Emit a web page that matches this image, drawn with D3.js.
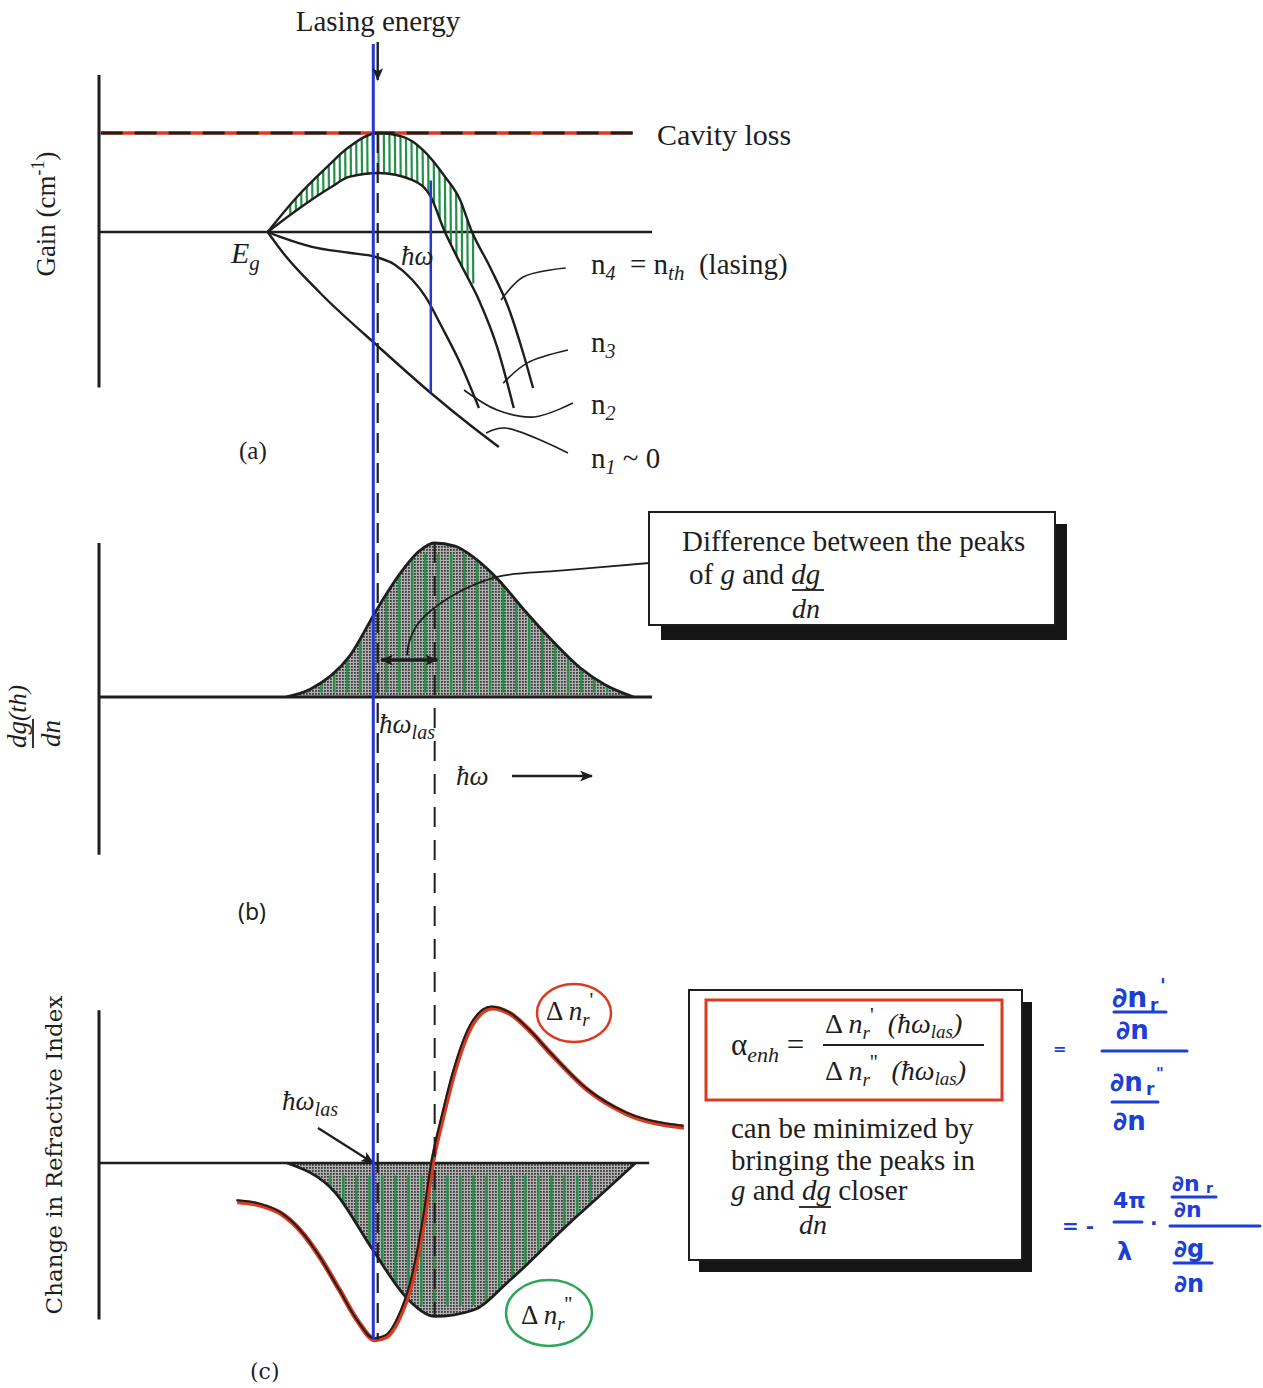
<!DOCTYPE html>
<html>
<head>
<meta charset="utf-8">
<script src="https://cdnjs.cloudflare.com/ajax/libs/d3/7.8.5/d3.min.js"></script>
<style>
  body { margin: 0; background: #fff; }
  svg { display: block; }
  text { font-family: "Liberation Serif", "Times New Roman", serif; fill: #1e1e1e; }
  .hand { font-family: "DejaVu Sans", sans-serif; fill: #1d3fd4; font-weight: bold; }
</style>
</head>
<body>
<div id="fig"></div>
<script>
// photon energy runs 0..100 (arbitrary units) along every panel
const bandGap = 30.5;
const lasingEnergy = 50.4;
const lasingMarker = 49.6;      // hand-drawn blue line
const dgPeakEnergy = 60.7;
const gainMarker = 60.0;        // short blue line in (a)
const cavityLoss = 5;

// (a) gain spectra for increasing carrier density n1 < n2 < n3 < n4
const gainN4 = [[30.5,0],[35.8,1.77],[41.2,3.28],[45.2,4.29],[50.5,5.0],[55.0,4.8],[58.6,4.14],[62.6,2.78],[65.3,1.62],[67.3,0.1],[70.7,-1.77],[74.0,-3.79],[76.7,-6.11],[78.5,-7.88]];
const gainN3 = [[30.5,0],[35.8,1.11],[42.0,2.27],[45.2,2.78],[50.6,2.98],[56.6,2.63],[60.0,1.77],[62.4,0.1],[65.3,-1.57],[68.7,-3.43],[72.0,-5.81],[75.0,-8.89]];
const gainN2 = [[30.5,0],[33.3,-0.3],[38.5,-0.75],[45.2,-1.05],[49.9,-1.25],[53.5,-1.65],[56.6,-2.4],[59.0,-3.25],[62.0,-4.80],[65.3,-6.62],[68.7,-8.89]];
const gainN1 = [[30.5,0],[33.3,-1.06],[40.0,-3.08],[50.6,-5.81],[60.0,-8.13],[67.1,-9.75],[72.3,-10.86]];
const leaderN4 = [[72.7,-3.43],[76.7,-2.27],[84.4,-1.82]];
const leaderN3 = [[73.1,-7.63],[77.4,-6.62],[84.8,-5.96]];
const leaderN2 = [[66.0,-7.98],[72.0,-8.99],[78.7,-9.34],[85.7,-8.64]];
const leaderN1 = [[70.0,-10.15],[73.4,-9.90],[84.8,-11.16]];

// (b) differential gain dg/dn at threshold
const dgdn = [[33.8,0],[38.2,0.05],[45.2,0.26],[50.6,0.59],[54.4,0.80],[58.0,0.95],[60.6,1.0],[64.4,0.98],[68.0,0.90],[72.0,0.77],[77.0,0.56],[82.1,0.36],[87.0,0.19],[91.5,0.08],[96.7,0]];
const leaderB = [[99.5,0.87],[83.4,0.82],[72.0,0.78],[63.5,0.65],[58.0,0.49],[56.2,0.37],[55.7,0.27]];

// (c) change in refractive index
const dnImag = [[34.0,0],[42.7,-0.19],[49.5,-0.56],[55.9,-0.88],[60.8,-0.99],[67.6,-0.95],[74.5,-0.75],[85.0,-0.39],[90.6,-0.21],[97.0,0]];
const dnReal = [[25.0,-0.25],[29.0,-0.27],[33.1,-0.33],[37.0,-0.46],[40.0,-0.61],[43.5,-0.82],[46.8,-1.02],[49.9,-1.14],[52.0,-1.12],[54.0,-1.02],[56.6,-0.76],[58.7,-0.38],[60.3,0],[62.2,0.3],[64.2,0.58],[67.6,0.90],[71.1,1.0],[74.5,0.96],[78.0,0.85],[81.6,0.71],[88.4,0.47],[95.3,0.32],[105.8,0.23]];

const W = 1263, H = 1388;
const svg = d3.select("#fig").append("svg").attr("width", W).attr("height", H);

const x = d3.scaleLinear().domain([0, 100]).range([99, 652]);
const yA = d3.scaleLinear().domain([0, 5]).range([232, 133]);
const yB = d3.scaleLinear().domain([0, 1]).range([697, 543]);
const yC = d3.scaleLinear().domain([0, 1]).range([1163, 1008]);

const mx = d3.curveMonotoneX;
const lineA = d3.line().x(d => x(d[0])).y(d => yA(d[1])).curve(mx);
const lineB = d3.line().x(d => x(d[0])).y(d => yB(d[1])).curve(d3.curveCatmullRom.alpha(0.5));
const lineC = d3.line().x(d => x(d[0])).y(d => yC(d[1])).curve(mx);
const areaB = d3.area().x(d => x(d[0])).y0(yB(0)).y1(d => yB(d[1])).curve(mx);
const areaC = d3.area().x(d => x(d[0])).y0(yC(0)).y1(d => yC(d[1])).curve(mx);

const defs = svg.append("defs");
const dots = defs.append("pattern").attr("id", "dots").attr("width", 3).attr("height", 3)
  .attr("patternUnits", "userSpaceOnUse");
dots.append("rect").attr("width", 3).attr("height", 3).attr("fill", "#b0b0b0");
dots.append("rect").attr("width", 1.8).attr("height", 1.8).attr("fill", "#3c3c3c");

defs.append("marker").attr("id", "head").attr("viewBox", "0 0 12 10")
  .attr("refX", 11).attr("refY", 5).attr("markerWidth", 13).attr("markerHeight", 11)
  .attr("markerUnits", "userSpaceOnUse").attr("orient", "auto-start-reverse")
  .append("path").attr("d", "M0,0 L12,5 L0,10 L3,5 Z").attr("fill", "#1e1e1e");

// region between n3 and n4 gets the green hatch
const bandPath = lineA(gainN4) + lineA(gainN3.slice().reverse()).replace(/^M/, "L") + "Z";
defs.append("clipPath").attr("id", "clipA").append("path").attr("d", bandPath);
defs.append("clipPath").attr("id", "clipB").append("path").attr("d", areaB(dgdn));
defs.append("clipPath").attr("id", "clipC").append("path").attr("d", areaC(dnImag));

const ink = "#1e1e1e", green = "#23914a", blue = "#2438d0", red = "#db3a1e";

function vline(xv, y1, y2) {
  return svg.append("line").attr("x1", xv).attr("x2", xv).attr("y1", y1).attr("y2", y2);
}
function hline(y, x1, x2) {
  return svg.append("line").attr("x1", x1).attr("x2", x2).attr("y1", y).attr("y2", y);
}

// ---------- panel (a) ----------
vline(x(0), yA(7.93), yA(-7.85)).attr("stroke", ink).attr("stroke-width", 3);
hline(yA(0), x(0), x(100)).attr("stroke", ink).attr("stroke-width", 2.5);
hline(yA(cavityLoss), x(0.3), x(96.5)).attr("stroke", red).attr("stroke-width", 3.5);
hline(yA(cavityLoss), x(0.3), x(96.5)).attr("stroke", ink).attr("stroke-width", 3)
  .attr("stroke-dasharray", "22,12");

svg.append("g").attr("clip-path", "url(#clipA)")
  .selectAll("line").data(d3.range(34.5, 68, 1.0)).join("line")
  .attr("x1", d => x(d)).attr("x2", d => x(d) + 1)
  .attr("y1", yA(5.2)).attr("y2", yA(-2.6))
  .attr("stroke", green).attr("stroke-width", 2.2);

svg.selectAll("path.gain").data([gainN4, gainN3, gainN2, gainN1]).join("path")
  .attr("class", "gain").attr("d", lineA)
  .attr("fill", "none").attr("stroke", ink).attr("stroke-width", 2.4);
svg.selectAll("path.leadA").data([leaderN4, leaderN3, leaderN2, leaderN1]).join("path")
  .attr("class", "leadA").attr("d", d3.line().x(d => x(d[0])).y(d => yA(d[1])).curve(d3.curveCatmullRom.alpha(0.5)))
  .attr("fill", "none").attr("stroke", ink).attr("stroke-width", 1.6);

vline(x(gainMarker), yA(2.6), yA(-8.1)).attr("stroke", blue).attr("stroke-width", 2.5);

svg.append("text").attr("x", 378).attr("y", 31).attr("text-anchor", "middle")
  .attr("font-size", 29).text("Lasing energy");
svg.append("text").attr("x", 657).attr("y", 145).attr("font-size", 30).text("Cavity loss");

const eg = svg.append("text").attr("x", 231).attr("y", 263).attr("font-size", 30).attr("font-style", "italic");
eg.append("tspan").text("E");
eg.append("tspan").attr("font-size", 21).attr("dy", 7).text("g");
svg.append("text").attr("x", 401).attr("y", 265).attr("font-size", 27).attr("font-style", "italic").text("ħω");

const nl = svg.append("text").attr("x", 591).attr("y", 274).attr("font-size", 29);
nl.append("tspan").text("n");
nl.append("tspan").attr("font-size", 20).attr("dy", 6).attr("font-style", "italic").text("4");
nl.append("tspan").attr("dy", -6).text("\u00a0 = n");
nl.append("tspan").attr("font-size", 21).attr("dy", 6).attr("font-style", "italic").text("th");
nl.append("tspan").attr("dy", -6).text("\u00a0 (lasing)");
[["3", 352], ["2", 414], ["1", 468]].forEach(([s, yy]) => {
  const t = svg.append("text").attr("x", 591).attr("y", yy).attr("font-size", 29);
  t.append("tspan").text("n");
  t.append("tspan").attr("font-size", 20).attr("dy", 6).attr("font-style", "italic").text(s);
  if (s === "1") t.append("tspan").attr("dy", -6).text(" ~ 0");
});
svg.append("text").attr("x", 239).attr("y", 459).attr("font-size", 25).text("(a)");

const gl = svg.append("text").attr("transform", "translate(55,214) rotate(-90)")
  .attr("text-anchor", "middle").attr("font-size", 27);
gl.append("tspan").text("Gain (cm");
gl.append("tspan").attr("font-size", 18).attr("dy", -11).text("-1");
gl.append("tspan").attr("dy", 11).text(")");

// ---------- panel (b) ----------
vline(x(0), yB(1.0), yB(-1.025)).attr("stroke", ink).attr("stroke-width", 3);
svg.append("path").attr("d", areaB(dgdn)).attr("fill", "url(#dots)");
svg.append("g").attr("clip-path", "url(#clipB)")
  .selectAll("line").data(d3.range(35.5, 96, 2.35)).join("line")
  .attr("x1", d => x(d)).attr("x2", d => x(d))
  .attr("y1", yB(0.93)).attr("y2", yB(0.03))
  .attr("stroke", green).attr("stroke-width", 2.4);
svg.append("path").attr("d", areaB.lineY1()(dgdn)).attr("fill", "none").attr("stroke", ink).attr("stroke-width", 2.8);
hline(yB(0), x(0), x(100)).attr("stroke", ink).attr("stroke-width", 2.8);

svg.append("line").attr("x1", x(51)).attr("x2", x(61.2)).attr("y1", yB(0.24)).attr("y2", yB(0.24))
  .attr("stroke", ink).attr("stroke-width", 3.5)
  .attr("marker-start", "url(#head)").attr("marker-end", "url(#head)");
svg.append("path").attr("d", lineB(leaderB)).attr("fill", "none").attr("stroke", ink).attr("stroke-width", 1.8);

const lb = svg.append("text").attr("x", 379).attr("y", 733).attr("font-size", 27).attr("font-style", "italic");
lb.append("tspan").text("ħω");
lb.append("tspan").attr("font-size", 20).attr("dy", 6).text("las");
svg.append("text").attr("x", 456).attr("y", 785).attr("font-size", 27).attr("font-style", "italic").text("ħω");
svg.append("line").attr("x1", 512).attr("x2", 592).attr("y1", 776).attr("y2", 776)
  .attr("stroke", ink).attr("stroke-width", 2.4).attr("marker-end", "url(#head)");
svg.append("text").attr("x", 238).attr("y", 920).attr("font-size", 23)
  .style("font-family", "'Noto Sans', sans-serif").text("(b)");

const dl = svg.append("g").attr("transform", "translate(0,748) rotate(-90)");
const dnum = dl.append("text").attr("x", 0).attr("y", 26).attr("font-size", 27).attr("font-style", "italic");
dnum.append("tspan").text("dg");
dnum.append("tspan").attr("font-size", 25).text("(th)");
dl.append("line").attr("x1", 0).attr("x2", 29).attr("y1", 33).attr("y2", 33).attr("stroke", ink).attr("stroke-width", 1.8);
dl.append("text").attr("x", 1).attr("y", 60).attr("font-size", 27).attr("font-style", "italic").text("dn");

// box 1
svg.append("rect").attr("x", 661).attr("y", 524).attr("width", 406).attr("height", 116).attr("fill", "#151515");
svg.append("rect").attr("x", 649).attr("y", 512).attr("width", 406).attr("height", 113)
  .attr("fill", "#fff").attr("stroke", ink).attr("stroke-width", 2);
svg.append("text").attr("x", 682).attr("y", 551).attr("font-size", 29).text("Difference between the peaks");
const b1 = svg.append("text").attr("x", 689).attr("y", 584).attr("font-size", 29);
b1.append("tspan").text("of ");
b1.append("tspan").attr("font-style", "italic").text("g");
b1.append("tspan").text(" and ");
b1.append("tspan").attr("font-style", "italic").text("dg");
hline(590, 792, 824).attr("stroke", ink).attr("stroke-width", 1.8);
svg.append("text").attr("x", 792).attr("y", 618).attr("font-size", 28).attr("font-style", "italic").text("dn");

// ---------- panel (c) ----------
vline(x(0), yC(0.985), yC(-1.01)).attr("stroke", ink).attr("stroke-width", 3);
svg.append("path").attr("d", areaC(dnImag)).attr("fill", "url(#dots)");
svg.append("g").attr("clip-path", "url(#clipC)")
  .selectAll("line").data(d3.range(39.5, 91, 2.35)).join("line")
  .attr("x1", d => x(d)).attr("x2", d => x(d))
  .attr("y1", yC(-0.08)).attr("y2", yC(-0.92))
  .attr("stroke", green).attr("stroke-width", 2.4);
svg.append("path").attr("d", areaC.lineY1()(dnImag)).attr("fill", "none").attr("stroke", ink).attr("stroke-width", 2.8);
hline(yC(0), x(0), x(99.5)).attr("stroke", ink).attr("stroke-width", 2.5);

svg.append("path").attr("d", lineC(dnReal)).attr("fill", "none").attr("stroke", red).attr("stroke-width", 5);
svg.append("path").attr("d", lineC(dnReal)).attr("transform", "translate(-1,-1.5)")
  .attr("fill", "none").attr("stroke", ink).attr("stroke-width", 2);

const lc = svg.append("text").attr("x", 282).attr("y", 1110).attr("font-size", 27).attr("font-style", "italic");
lc.append("tspan").text("ħω");
lc.append("tspan").attr("font-size", 20).attr("dy", 6).text("las");
svg.append("line").attr("x1", 318).attr("x2", x(lasingMarker)).attr("y1", 1128).attr("y2", yC(0))
  .attr("stroke", ink).attr("stroke-width", 2.2).attr("marker-end", "url(#head)");
svg.append("text").attr("x", 250).attr("y", 1379).attr("font-size", 22)
  .style("font-family", "'DejaVu Serif', serif").text("(c)");

svg.append("text").attr("transform", "translate(62,1155) rotate(-90)").attr("text-anchor", "middle")
  .attr("font-size", 23).style("font-family", "'DejaVu Serif', serif").text("Change in Refractive Index");

function deltaN(xp, yp, prime) {
  const t = svg.append("text").attr("x", xp).attr("y", yp).attr("font-size", 27);
  t.append("tspan").text("Δ ");
  t.append("tspan").attr("font-style", "italic").text("n");
  t.append("tspan").attr("font-style", "italic").attr("font-size", 19).attr("dy", 6).text("r");
  t.append("tspan").attr("font-size", 21).attr("dy", -19).text(prime);
  return t;
}
deltaN(546, 1020, "'");
svg.append("ellipse").attr("cx", 574).attr("cy", 1013).attr("rx", 37).attr("ry", 29)
  .attr("fill", "none").attr("stroke", red).attr("stroke-width", 2.5);
deltaN(521, 1324, "''");
svg.append("ellipse").attr("cx", 549).attr("cy", 1313).attr("rx", 43).attr("ry", 33)
  .attr("fill", "none").attr("stroke", "#2fa558").attr("stroke-width", 2.5);

// box 2
svg.append("rect").attr("x", 699).attr("y", 1002).attr("width", 333).attr("height", 270).attr("fill", "#151515");
svg.append("rect").attr("x", 689).attr("y", 990).attr("width", 333).attr("height", 270)
  .attr("fill", "#fff").attr("stroke", ink).attr("stroke-width", 2);
svg.append("rect").attr("x", 706).attr("y", 1000).attr("width", 296).attr("height", 100)
  .attr("fill", "none").attr("stroke", red).attr("stroke-width", 3);
const al = svg.append("text").attr("x", 731).attr("y", 1055).attr("font-size", 31);
al.append("tspan").text("α");
al.append("tspan").attr("font-size", 22).attr("dy", 7).attr("font-style", "italic").text("enh");
al.append("tspan").attr("dy", -7).text(" =");
function frac(yp, prime) {
  const t = svg.append("text").attr("x", 825).attr("y", yp).attr("font-size", 28);
  t.append("tspan").text("Δ ");
  t.append("tspan").attr("font-style", "italic").text("n");
  t.append("tspan").attr("font-style", "italic").attr("font-size", 19).attr("dy", 6).text("r");
  t.append("tspan").attr("font-size", 21).attr("dy", -17).text(prime);
  t.append("tspan").attr("dy", 11).attr("font-style", "italic").text("\u00a0 (ħω");
  t.append("tspan").attr("font-style", "italic").attr("font-size", 19).attr("dy", 5).text("las");
  t.append("tspan").attr("font-style", "italic").attr("dy", -5).text(")");
}
frac(1033, "'");
hline(1045, 823, 984).attr("stroke", ink).attr("stroke-width", 1.8);
frac(1080, "''");
svg.append("text").attr("x", 731).attr("y", 1138).attr("font-size", 29).text("can be minimized by");
svg.append("text").attr("x", 731).attr("y", 1170).attr("font-size", 29).text("bringing the peaks in");
const b2 = svg.append("text").attr("x", 731).attr("y", 1200).attr("font-size", 29);
b2.append("tspan").attr("font-style", "italic").text("g");
b2.append("tspan").text(" and ");
b2.append("tspan").attr("font-style", "italic").text("dg");
b2.append("tspan").text(" closer");
hline(1207, 799, 831).attr("stroke", ink).attr("stroke-width", 1.8);
svg.append("text").attr("x", 799).attr("y", 1234).attr("font-size", 28).attr("font-style", "italic").text("dn");

// ---------- shared vertical guides ----------
vline(x(dgPeakEnergy), yB(1.0), yC(-0.99)).attr("stroke", ink).attr("stroke-width", 2)
  .attr("stroke-dasharray", "20,13");
vline(x(lasingEnergy), yA(cavityLoss), yC(-1.14)).attr("stroke", ink).attr("stroke-width", 2.2)
  .attr("stroke-dasharray", "20,10");
vline(x(lasingMarker), 44, yC(-1.14)).attr("stroke", blue).attr("stroke-width", 3);
svg.append("line").attr("x1", x(lasingEnergy)).attr("x2", x(lasingEnergy)).attr("y1", 42).attr("y2", 80)
  .attr("stroke", ink).attr("stroke-width", 2.4).attr("marker-end", "url(#head)");

// ---------- handwritten notes ----------
const hand = svg.append("g");
function hw(xp, yp, s, size) {
  return hand.append("text").attr("class", "hand").attr("x", xp).attr("y", yp).attr("font-size", size || 24).text(s);
}
function hbar(yp, x1, x2) {
  hand.append("line").attr("x1", x1).attr("x2", x2).attr("y1", yp).attr("y2", yp)
    .attr("stroke", "#1d3fd4").attr("stroke-width", 3).attr("stroke-linecap", "round");
}
hw(1053, 1054, "=", 16);
hw(1112, 1007, "∂n", 28); hw(1150, 1011, "r", 17); hw(1160, 992, "'", 19);
hbar(1012, 1114, 1166);
hw(1116, 1039, "∂n", 26);
hbar(1051, 1102, 1187);
hw(1110, 1091, "∂n", 26); hw(1146, 1095, "r", 17); hw(1156, 1079, "\"", 15);
hbar(1102, 1112, 1158);
hw(1113, 1130, "∂n", 26);
hw(1062, 1233, "= -", 20);
hw(1113, 1208, "4π", 22);
hbar(1222, 1114, 1142);
hw(1117, 1260, "λ", 24);
hw(1150, 1230, "·", 20);
hw(1172, 1191, "∂n", 22); hw(1206, 1193, "r", 14);
hbar(1197, 1172, 1216);
hw(1174, 1217, "∂n", 22);
hbar(1226, 1170, 1260);
hw(1174, 1257, "∂g", 24);
hbar(1263, 1174, 1212);
hw(1174, 1292, "∂n", 24);
</script>
</body>
</html>
